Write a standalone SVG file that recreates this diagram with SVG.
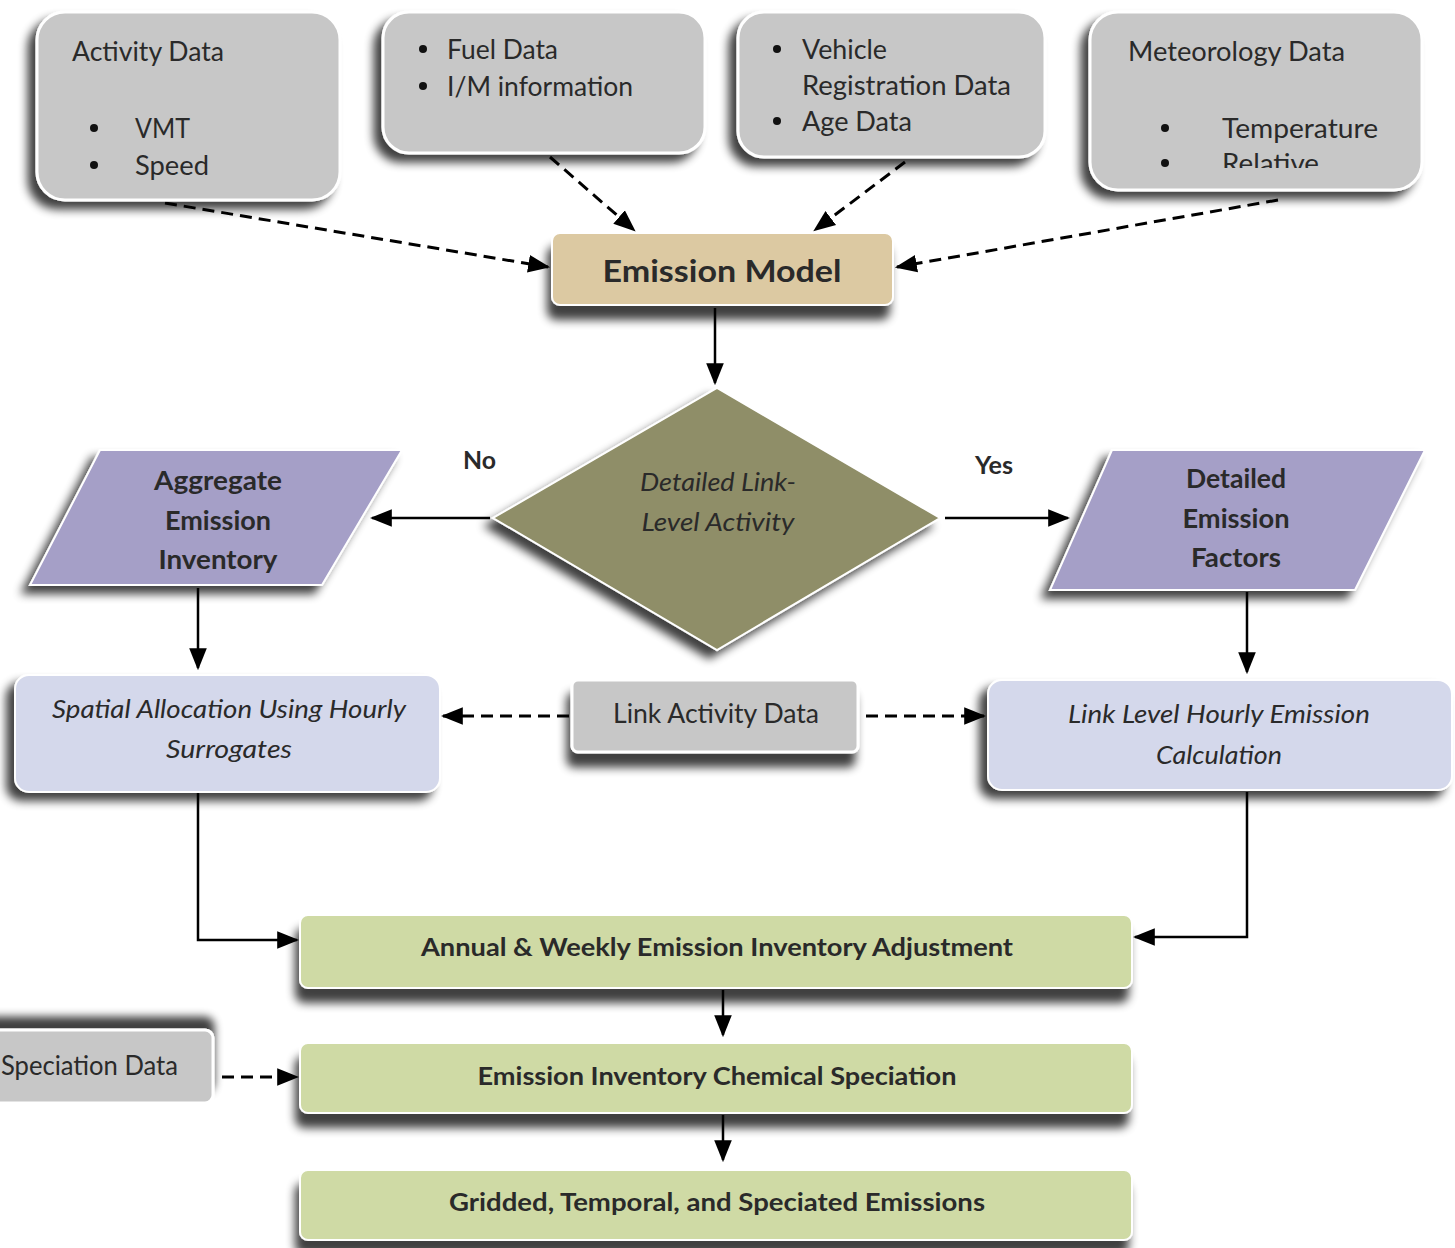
<svg xmlns="http://www.w3.org/2000/svg" width="1455" height="1248" viewBox="0 0 1455 1248">
<defs>
<filter id="sh" x="-20%" y="-20%" width="140%" height="160%">
<feGaussianBlur in="SourceAlpha" stdDeviation="5"/>
<feOffset dx="-8" dy="8" result="b"/>
<feComponentTransfer><feFuncA type="linear" slope="0.75"/></feComponentTransfer>
<feMerge><feMergeNode/><feMergeNode in="SourceGraphic"/></feMerge>
</filter>
<filter id="shd" x="-20%" y="-20%" width="140%" height="180%">
<feGaussianBlur in="SourceAlpha" stdDeviation="5"/>
<feOffset dx="-4" dy="14" result="b"/>
<feComponentTransfer><feFuncA type="linear" slope="0.75"/></feComponentTransfer>
<feMerge><feMergeNode/><feMergeNode in="SourceGraphic"/></feMerge>
</filter>
<filter id="shu" x="-20%" y="-60%" width="140%" height="180%">
<feGaussianBlur in="SourceAlpha" stdDeviation="4"/>
<feOffset dx="0" dy="-12" result="b"/>
<feComponentTransfer><feFuncA type="linear" slope="0.75"/></feComponentTransfer>
<feMerge><feMergeNode/><feMergeNode in="SourceGraphic"/></feMerge>
</filter>
<marker id="a" viewBox="0 0 10 10" refX="9" refY="5" markerWidth="22" markerHeight="22" orient="auto" markerUnits="userSpaceOnUse">
<path d="M0,1 L10,5 L0,9 z" fill="#000"/>
</marker>
<clipPath id="metclip"><rect x="1090" y="12" width="340" height="156"/></clipPath>
</defs>
<style>
text{font-family:Lato,"Open Sans","Liberation Sans",sans-serif;fill:#2a2a2a}
.gray{fill:#c7c7c7;stroke:#fff;stroke-width:3}
.t{font-size:27px}
.b{font-weight:bold}
.i{font-style:italic}
.c{text-anchor:middle}
.solid{stroke:#000;stroke-width:2.5;fill:none;marker-end:url(#a)}
.dash{stroke:#000;stroke-width:3;fill:none;stroke-dasharray:12 7;marker-end:url(#a)}
.bul{fill:#111}
</style>

<g id="connectors">
<path class="dash" d="M165,203 L548,267"/>
<path class="dash" d="M550,157 L634,230"/>
<path class="dash" d="M905,162 L815,230"/>
<path class="dash" d="M1278,200 L897,267"/>
<path class="solid" d="M715,308 L715,383"/>
<path class="solid" d="M490,518 L372,518"/>
<path class="solid" d="M945,518 L1068,518"/>
<path class="solid" d="M198,588 L198,668"/>
<path class="solid" d="M1247,592 L1247,672"/>
<path class="dash" d="M569,716 L443,716"/>
<path class="dash" d="M866,716 L984,716"/>
<path class="solid" d="M198,792 L198,940 L297,940"/>
<path class="solid" d="M1247,792 L1247,937 L1135,937"/>
<path class="solid" d="M723,990 L723,1035"/>
<path class="solid" d="M723,1115 L723,1160"/>
<path class="dash" d="M222,1077 L297,1077"/>
</g>

<g id="activity">
<rect class="gray" x="37" y="12" width="303" height="188" rx="28" filter="url(#sh)"/>
<text class="t" x="72" y="61" textLength="152" lengthAdjust="spacingAndGlyphs">Activity Data</text>
<circle class="bul" cx="94" cy="128" r="4"/>
<text class="t" x="135" y="138" textLength="55" lengthAdjust="spacingAndGlyphs">VMT</text>
<circle class="bul" cx="94" cy="165" r="4"/>
<text class="t" x="135" y="175" textLength="74" lengthAdjust="spacingAndGlyphs">Speed</text>
</g>

<g id="fuel">
<rect class="gray" x="383" y="12" width="322" height="141" rx="26" filter="url(#sh)"/>
<circle class="bul" cx="423" cy="49" r="4"/>
<text class="t" x="447" y="59" textLength="111" lengthAdjust="spacingAndGlyphs">Fuel Data</text>
<circle class="bul" cx="423" cy="86" r="4"/>
<text class="t" x="447" y="96" textLength="186" lengthAdjust="spacingAndGlyphs">I/M information</text>
</g>

<g id="vehicle">
<rect class="gray" x="738" y="12" width="307" height="145" rx="26" filter="url(#sh)"/>
<circle class="bul" cx="777" cy="49" r="4"/>
<text class="t" x="802" y="59" textLength="85" lengthAdjust="spacingAndGlyphs">Vehicle</text>
<text class="t" x="802" y="95" textLength="209" lengthAdjust="spacingAndGlyphs">Registration Data</text>
<circle class="bul" cx="777" cy="121" r="4"/>
<text class="t" x="802" y="131" textLength="110" lengthAdjust="spacingAndGlyphs">Age Data</text>
</g>

<g id="meteorology">
<rect class="gray" x="1090" y="12" width="332" height="178" rx="28" filter="url(#sh)"/>
<text class="t" x="1128" y="61" textLength="217" lengthAdjust="spacingAndGlyphs">Meteorology Data</text>
<circle class="bul" cx="1165" cy="128" r="4"/>
<text class="t" x="1222" y="138" textLength="156" lengthAdjust="spacingAndGlyphs">Temperature</text>
<circle class="bul" cx="1165" cy="163" r="4"/>
<text class="t" x="1222" y="173" textLength="97" lengthAdjust="spacingAndGlyphs" clip-path="url(#metclip)">Relative</text>
</g>

<g id="emission-model">
<rect x="552" y="233" width="341" height="72" rx="8" fill="#dcc9a2" stroke="#fff" stroke-width="2" filter="url(#shd)"/>
<text class="b c" x="722" y="282" font-size="31" textLength="239" lengthAdjust="spacingAndGlyphs">Emission Model</text>
</g>

<g id="decision">
<polygon points="717,388 940,518 717,650 493,518" fill="#8f8e67" stroke="#fff" stroke-width="2" filter="url(#sh)"/>
<text class="i c" x="718" y="491" font-size="26" fill="#3a3a3a" textLength="156" lengthAdjust="spacingAndGlyphs">Detailed Link-</text>
<text class="i c" x="718" y="531" font-size="26" fill="#3a3a3a" textLength="153" lengthAdjust="spacingAndGlyphs">Level Activity</text>
</g>

<text class="b" x="463" y="469" font-size="25" textLength="33" lengthAdjust="spacingAndGlyphs">No</text>
<text class="b" x="975" y="474" font-size="25" textLength="38" lengthAdjust="spacingAndGlyphs">Yes</text>

<g id="aggregate">
<polygon points="100,450 402,450 322,585 30,585" fill="#a59fc7" stroke="#fff" stroke-width="2" filter="url(#sh)"/>
<text class="b c" x="218" y="490" font-size="26" textLength="128" lengthAdjust="spacingAndGlyphs">Aggregate</text>
<text class="b c" x="218" y="530" font-size="26" textLength="106" lengthAdjust="spacingAndGlyphs">Emission</text>
<text class="b c" x="218" y="569" font-size="26" textLength="119" lengthAdjust="spacingAndGlyphs">Inventory</text>
</g>

<g id="detailed-factors">
<polygon points="1112,450 1425,450 1355,590 1050,590" fill="#a59fc7" stroke="#fff" stroke-width="2" filter="url(#sh)"/>
<text class="b c" x="1236" y="488" font-size="26" textLength="100" lengthAdjust="spacingAndGlyphs">Detailed</text>
<text class="b c" x="1236" y="528" font-size="26" textLength="107" lengthAdjust="spacingAndGlyphs">Emission</text>
<text class="b c" x="1236" y="567" font-size="26" textLength="90" lengthAdjust="spacingAndGlyphs">Factors</text>
</g>

<g id="spatial">
<rect x="15" y="675" width="425" height="117" rx="14" fill="#d4d8eb" stroke="#fff" stroke-width="2" filter="url(#sh)"/>
<text class="i c" x="229" y="718" font-size="26" textLength="354" lengthAdjust="spacingAndGlyphs">Spatial Allocation Using Hourly</text>
<text class="i c" x="229" y="758" font-size="26" textLength="126" lengthAdjust="spacingAndGlyphs">Surrogates</text>
</g>

<g id="link-activity">
<rect class="gray" x="572" y="680" width="286" height="72" rx="6" filter="url(#shd)"/>
<text class="c" x="716" y="723" font-size="27" textLength="206" lengthAdjust="spacingAndGlyphs">Link Activity Data</text>
</g>

<g id="link-level">
<rect x="988" y="680" width="464" height="110" rx="14" fill="#d4d8eb" stroke="#fff" stroke-width="2" filter="url(#sh)"/>
<text class="i c" x="1219" y="723" font-size="26" textLength="302" lengthAdjust="spacingAndGlyphs">Link Level Hourly Emission</text>
<text class="i c" x="1219" y="764" font-size="26" textLength="126" lengthAdjust="spacingAndGlyphs">Calculation</text>
</g>

<g id="annual">
<rect x="300" y="915" width="832" height="73" rx="8" fill="#cfdaa5" stroke="#fff" stroke-width="2" filter="url(#shd)"/>
<text class="b c" x="717" y="956" font-size="25" textLength="592" lengthAdjust="spacingAndGlyphs">Annual &amp; Weekly Emission Inventory Adjustment</text>
</g>

<g id="speciation-data">
<rect class="gray" x="-20" y="1030" width="233" height="73" rx="8" filter="url(#shu)"/>
<text x="1" y="1075" font-size="26" textLength="177" lengthAdjust="spacingAndGlyphs">Speciation Data</text>
</g>

<g id="chemical">
<rect x="300" y="1043" width="832" height="70" rx="8" fill="#cfdaa5" stroke="#fff" stroke-width="2" filter="url(#shd)"/>
<text class="b c" x="717" y="1085" font-size="25" textLength="479" lengthAdjust="spacingAndGlyphs">Emission Inventory Chemical Speciation</text>
</g>

<g id="gridded">
<rect x="300" y="1170" width="832" height="70" rx="8" fill="#cfdaa5" stroke="#fff" stroke-width="2" filter="url(#shd)"/>
<text class="b c" x="717" y="1211" font-size="25" textLength="536" lengthAdjust="spacingAndGlyphs">Gridded, Temporal, and Speciated Emissions</text>
</g>
</svg>
